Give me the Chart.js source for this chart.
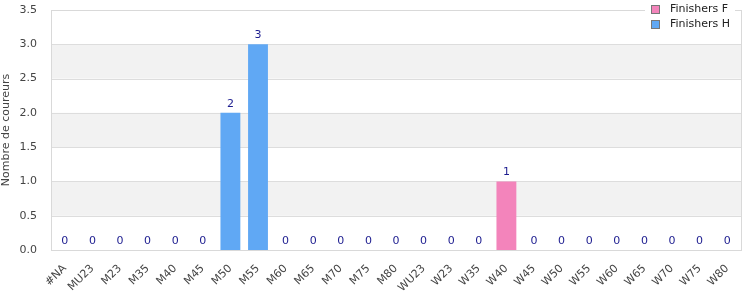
<!DOCTYPE html>
<html>
<head>
<meta charset="utf-8">
<script src="https://cdn.jsdelivr.net/npm/chart.js@4/dist/chart.umd.min.js"></script>
<style>
  html, body { margin: 0; padding: 0; background: #fff; }
  #wrap { width: 750px; height: 300px; position: relative; }
</style>
</head>
<body>
<div id="wrap"><canvas id="chart"></canvas></div>
<script>
const categories = ['#NA', 'MU23', 'M23', 'M35', 'M40', 'M45', 'M50', 'M55', 'M60', 'M65', 'M70', 'M75', 'M80',
  'WU23', 'W23', 'W35', 'W40', 'W45', 'W50', 'W55', 'W60', 'W65', 'W70', 'W75', 'W80'];
const finishersF = [0, 0, 0, 0, 0, 0, 0, 0, 0, 0, 0, 0, 0, 0, 0, 0, 1, 0, 0, 0, 0, 0, 0, 0, 0];
const finishersH = [0, 0, 0, 0, 0, 0, 2, 3, 0, 0, 0, 0, 0, 0, 0, 0, 0, 0, 0, 0, 0, 0, 0, 0, 0];
const yTicks = [0, 0.5, 1, 1.5, 2, 2.5, 3, 3.5];
const bands = [[0.5, 1], [1.5, 2], [2.5, 3]];

const FONT = 'DejaVu Sans, sans-serif';

// background bands + frame
const bandPlugin = {
  id: 'bands',
  beforeDatasetsDraw(chart) {
    const { ctx, chartArea: a, scales: { y } } = chart;
    ctx.save();
    ctx.fillStyle = '#f2f2f2';
    bands.forEach(([lo, hi]) => {
      const top = y.getPixelForValue(hi), bot = y.getPixelForValue(lo);
      ctx.fillRect(a.left, top, a.right - a.left, bot - top);
    });
    ctx.strokeStyle = '#dddddd';
    ctx.lineWidth = 1;
    yTicks.forEach(v => {
      const py = Math.round(y.getPixelForValue(v)) + 0.5;
      ctx.beginPath(); ctx.moveTo(a.left, py); ctx.lineTo(a.right, py); ctx.stroke();
    });
    ctx.restore();
  },
  afterDatasetsDraw(chart) {
    const { ctx, chartArea: a } = chart;
    ctx.save();
    ctx.strokeStyle = '#d9d9d9';
    ctx.lineWidth = 1;
    ctx.strokeRect(Math.round(a.left) + 0.5, Math.round(a.top) + 0.5, Math.round(a.right - a.left), Math.round(a.bottom - a.top));
    ctx.restore();
  }
};

// total labels above each stack
const totalsPlugin = {
  id: 'totals',
  afterDatasetsDraw(chart) {
    const { ctx, scales: { x, y } } = chart;
    ctx.save();
    ctx.font = '11px ' + FONT;
    ctx.fillStyle = '#1c1c8f';
    ctx.textAlign = 'center';
    ctx.textBaseline = 'middle';
    categories.forEach((c, i) => {
      const total = finishersF[i] + finishersH[i];
      ctx.fillText(String(total), x.getPixelForValue(i), y.getPixelForValue(total) - 9);
    });
    ctx.restore();
  }
};

// legend in the top right corner
const legendPlugin = {
  id: 'cornerLegend',
  afterDraw(chart) {
    const { ctx } = chart;
    ctx.save();
    ctx.fillStyle = '#fff';
    ctx.fillRect(645, 0, 90, 32);
    ctx.font = '11px ' + FONT;
    ctx.textBaseline = 'middle';
    chart.data.datasets.forEach((ds, i) => {
      const yy = 9 + i * 15;
      ctx.fillStyle = ds.backgroundColor;
      ctx.fillRect(651, yy - 4, 8, 8);
      ctx.strokeStyle = '#777';
      ctx.lineWidth = 1;
      ctx.strokeRect(651.5, yy - 3.5, 8, 8);
      ctx.fillStyle = '#222';
      ctx.fillText(ds.label, 670, yy);
    });
    ctx.restore();
  }
};

new Chart(document.getElementById('chart'), {
  type: 'bar',
  data: {
    labels: categories,
    datasets: [
      { label: 'Finishers F', data: finishersF, backgroundColor: '#f384bb' },
      { label: 'Finishers H', data: finishersH, backgroundColor: '#60a8f4' }
    ]
  },
  options: {
    responsive: true,
    maintainAspectRatio: false,
    animation: false,
    layout: { padding: { top: 10, right: 9, left: 0, bottom: 0 } },
    plugins: { legend: { display: false }, tooltip: { enabled: false } },
    datasets: { bar: { categoryPercentage: 1, barPercentage: 0.72 } },
    scales: {
      x: {
        stacked: true,
        grid: { display: false },
        border: { display: false },
        ticks: {
          color: '#444', font: { family: FONT, size: 11 },
          minRotation: 45, maxRotation: 45, padding: 4
        },
        afterFit(s) { s.height = 50; s.paddingLeft = 0; s.paddingRight = 0; }
      },
      y: {
        stacked: true,
        min: 0, max: 3.5,
        grid: { display: false },
        border: { display: false },
        afterBuildTicks(s) { s.ticks = yTicks.map(v => ({ value: v })); },
        ticks: {
          color: '#444', font: { family: FONT, size: 11 }, padding: 6,
          callback: v => v.toFixed(1)
        },
        title: {
          display: true, text: 'Nombre de coureurs', color: '#444',
          font: { family: FONT, size: 11 }, padding: 0
        },
        afterFit(s) { s.width = 51; s.paddingTop = 0; s.paddingBottom = 0; }
      }
    }
  },
  plugins: [bandPlugin, totalsPlugin, legendPlugin]
});
</script>
</body>
</html>
